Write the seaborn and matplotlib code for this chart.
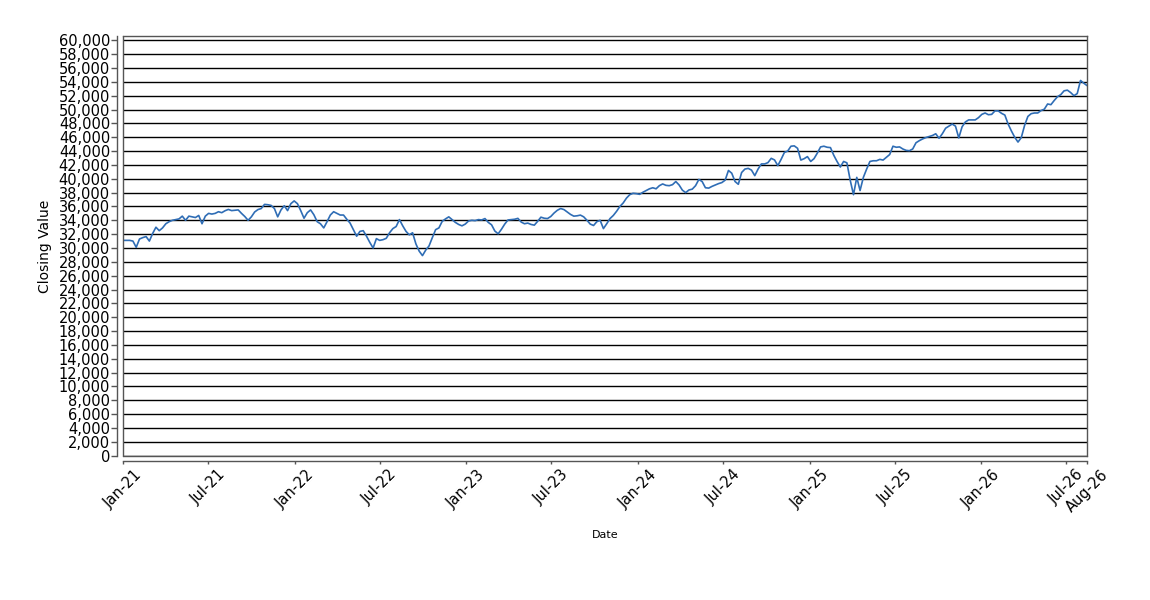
import matplotlib
matplotlib.use('Agg')
import matplotlib.pyplot as plt
import matplotlib.dates as mdates
from matplotlib.ticker import MultipleLocator, FuncFormatter
import pandas as pd
import seaborn as sns

# weekly closing values (Fridays)
close_2021 = [31100, 31100, 31100, 31000, 30100, 31300, 31500, 31650, 31000, 32100,
              33000, 32500, 32900, 33500, 33800, 34000, 34100, 34200, 34600, 34000,
              34600, 34500, 34400, 34700, 33500, 34600, 35000, 34900, 35000, 35240,
              35100, 35380, 35570, 35400, 35450, 35500, 35000, 34550, 34000, 34500,
              35200, 35550, 35700, 36300, 36250, 36150, 35700, 34500, 35500, 36100,
              35400, 36400, 36800]
close_2022 = [36400, 35400, 34300, 35100, 35500, 34800, 33800, 33500, 32900, 33800,
              34760, 35240, 35000, 34760, 34760, 34150, 33600, 32650, 31700, 32400,
              32500, 31700, 30800, 30000, 31350, 31100, 31200, 31400, 32200, 32800,
              33100, 34100, 33200, 32400, 31900, 32200, 30600, 29550, 28900, 29700,
              30300, 31500, 32650, 32900, 33850, 34200, 34500, 34100, 33700, 33400,
              33200, 33450]
close_2023 = [33900, 34000, 33950, 34100, 34050, 34250, 33700, 33350, 32450, 32050,
              32700, 33450, 34050, 34100, 34150, 34280, 33750, 33500, 33600, 33400,
              33300, 33850, 34450, 34300, 34250, 34550, 35050, 35450, 35700, 35550,
              35200, 34850, 34600, 34650, 34750, 34500, 34000, 33450, 33250, 33800,
              34000, 32800, 33500, 34250, 34700, 35300, 36000, 36500, 37200, 37700,
              37900, 37850]
close_2024 = [37750, 38050, 38300, 38550, 38700, 38550, 39000, 39250, 39050, 39000,
              39150, 39600, 39100, 38350, 38000, 38380, 38500, 39000, 39900, 39600,
              38700, 38650, 38900, 39100, 39300, 39450, 39800, 41200, 40800, 39600,
              39200, 40900, 41400, 41500, 41250, 40450, 41400, 42140, 42140, 42330,
              42950, 42720, 41900, 42800, 43800, 44000, 44700, 44750, 44400, 42700,
              42900, 43200]
close_2025 = [42500, 42900, 43700, 44600, 44700, 44550, 44500, 43400, 42500, 41700,
              42500, 42300, 39800, 37700, 40200, 38300, 40200, 41400, 42500, 42600,
              42600, 42800, 42700, 43100, 43500, 44700, 44550, 44600, 44300, 44100,
              44050, 44300, 45200, 45500, 45750, 45950, 46100, 46250, 46500, 45850,
              46500, 47300, 47600, 47900, 47600, 45900, 47500, 48200, 48500, 48500,
              48500, 48830]
close_2026 = [49300, 49500, 49250, 49300, 49800, 49800, 49450, 49200, 47900, 46900,
              46000, 45300, 45950, 47700, 49000, 49400, 49500, 49500, 49850, 50050,
              50800, 50700, 51300, 51850, 52150, 52700, 52800, 52450, 52000, 52300,
              54200, 53800, 53450]

values = close_2021 + close_2022 + close_2023 + close_2024 + close_2025 + close_2026
dates = pd.date_range('2021-01-01', periods=len(values), freq='W-FRI')
df = pd.DataFrame({'Date': dates, 'Closing Value': values})

tick_months = ['2021-01-01', '2021-07-01', '2022-01-01', '2022-07-01', '2023-01-01',
               '2023-07-01', '2024-01-01', '2024-07-01', '2025-01-01', '2025-07-01',
               '2026-01-01', '2026-07-01']

sns.set_theme(style='white')
plt.rcParams['font.family'] = ['DejaVu Sans']

fig = plt.figure(figsize=(11.5, 6), dpi=100)
ax = fig.add_axes([0.107, 0.2405, 0.8383, 0.6987])

sns.lineplot(data=df, x='Date', y='Closing Value', ax=ax, color='#2f6db5', lw=1.2)

ax.set_xlim(dates[0], dates[-1])
ax.set_ylim(0, 60550)

# y axis
ax.yaxis.set_major_locator(MultipleLocator(2000))
ax.yaxis.set_major_formatter(FuncFormatter(lambda v, p: f'{int(v):,}'))
ax.grid(axis='y', color='black', lw=1.0)
ax.grid(axis='x', visible=False)

# x axis: half-year ticks plus the last date
ticks = list(pd.to_datetime(tick_months)) + [dates[-1]]
ax.set_xticks(ticks)
ax.xaxis.set_major_formatter(mdates.DateFormatter('%b-%y'))

ax.tick_params(axis='y', left=True, length=4, width=1, color='#555555',
               pad=1, labelsize=10.5, labelcolor='black')
ax.tick_params(axis='x', bottom=True, length=2.5, width=1, color='#555555',
               pad=2, labelsize=10.5, labelcolor='black', labelrotation=45)
plt.setp(ax.get_xticklabels(), ha='right', rotation_mode='anchor')

for side in ['top', 'right', 'left', 'bottom']:
    ax.spines[side].set_color('#555555')
    ax.spines[side].set_linewidth(1)
ax.spines['left'].set_position(('outward', 4.3))
ax.spines['bottom'].set_position(('outward', 3.6))
# inner frame on the left and bottom
ax.plot([0, 0], [0, 1], transform=ax.transAxes, color='#555555', lw=1, clip_on=False)
ax.plot([0, 1], [0, 0], transform=ax.transAxes, color='#555555', lw=1, clip_on=False)

ax.set_ylabel('Closing Value', fontsize=10, color='black', labelpad=5)
ax.set_xlabel('Date', fontsize=8, color='black')
ax.xaxis.set_label_coords(0.5, -0.177)

fig.savefig('out.png', dpi=100)
